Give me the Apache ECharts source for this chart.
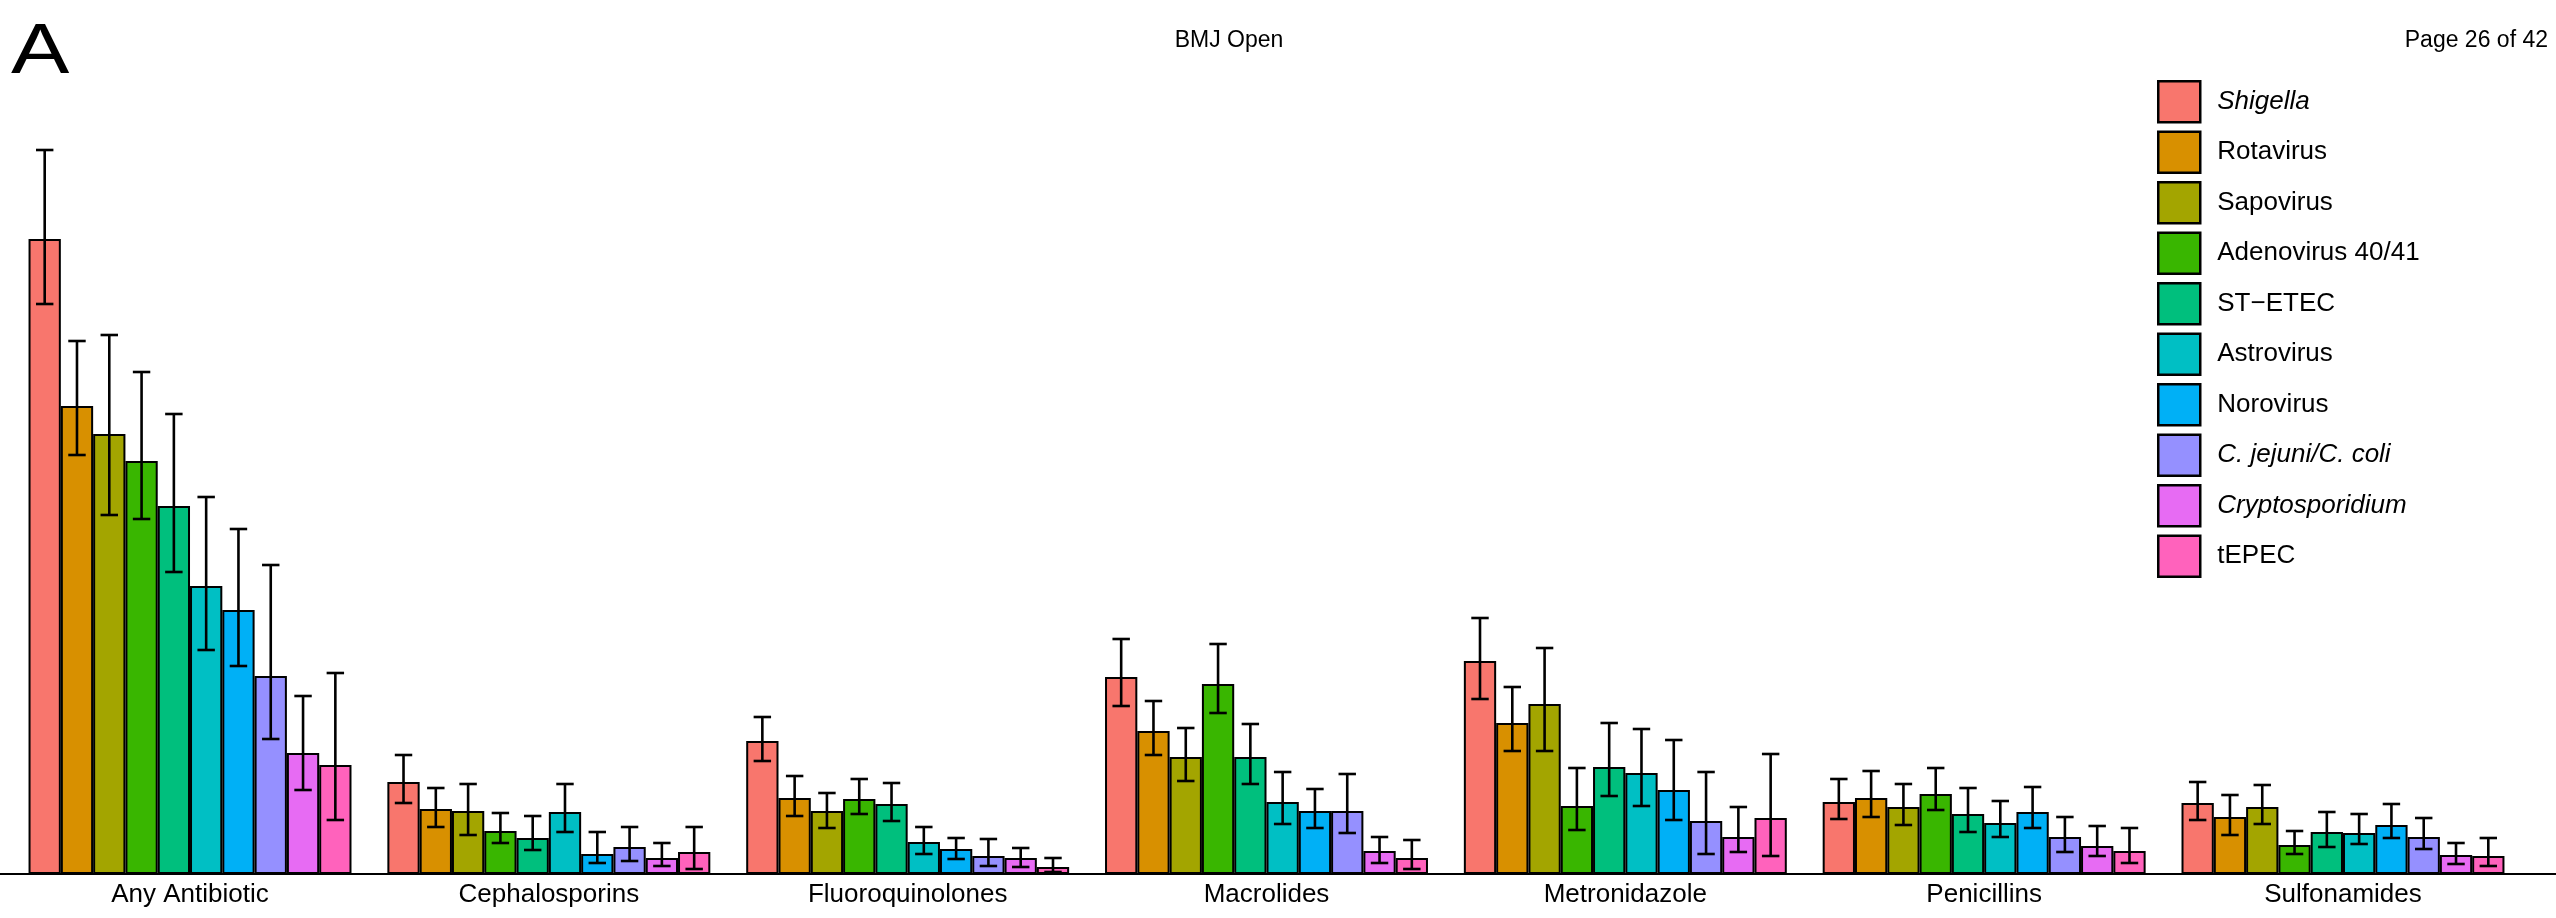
<!DOCTYPE html>
<html>
<head>
<meta charset="utf-8">
<script src="https://cdn.jsdelivr.net/npm/echarts@6/dist/echarts.min.js"></script>
<style>
html,body{margin:0;padding:0;background:#fff;}
#chart{width:2556px;height:918px;}
</style>
</head>
<body>
<div id="chart"></div>
<script>
const categories = ['Any Antibiotic','Cephalosporins','Fluoroquinolones','Macrolides','Metronidazole','Penicillins','Sulfonamides'];
const pathogens = ['Shigella','Rotavirus','Sapovirus','Adenovirus 40/41','ST\u2212ETEC','Astrovirus','Norovirus','C. jejuni/C. coli','Cryptosporidium','tEPEC'];
const italicNames = ['Shigella','C. jejuni/C. coli','Cryptosporidium'];
const colors = ['#F8766D','#D89000','#A3A500','#39B600','#00BF7D','#00BFC4','#00B0F6','#9590FF','#E76BF3','#FF62BC'];

const shigella      = [63.5, 9.2, 13.3, 19.7, 21.3, 7.2, 7.1];
const shigellaLo    = [57.0, 7.1, 11.3, 16.8, 17.5, 5.5, 5.4];
const shigellaHi    = [72.4, 11.9, 15.7, 23.5, 25.6, 9.5, 9.2];

const rotavirus     = [46.8, 6.5, 7.6, 14.3, 15.1, 7.6, 5.7];
const rotavirusLo   = [41.9, 4.7, 5.8, 11.9, 12.3, 5.7, 3.9];
const rotavirusHi   = [53.3, 8.6, 9.8, 17.3, 18.7, 10.3, 7.9];

const sapovirus     = [44.0, 6.3, 6.3, 11.7, 17.0, 6.7, 6.7];
const sapovirusLo   = [35.9, 3.9, 4.6, 9.3, 12.3, 4.9, 5.0];
const sapovirusHi   = [53.9, 9.0, 8.1, 14.6, 22.6, 9.0, 8.9];

const adenovirus    = [41.3, 4.3, 7.5, 19.0, 6.8, 8.0, 2.9];
const adenovirusLo  = [35.5, 3.1, 6.0, 16.1, 4.4, 6.4, 2.0];
const adenovirusHi  = [50.2, 6.1, 9.5, 23.0, 10.6, 10.6, 4.3];

const stEtec        = [36.8, 3.6, 7.0, 11.7, 10.7, 6.0, 4.2];
const stEtecLo      = [30.2, 2.4, 5.3, 9.0, 7.8, 4.2, 2.7];
const stEtecHi      = [46.0, 5.8, 9.1, 15.0, 15.1, 8.6, 6.2];

const astrovirus    = [28.8, 6.2, 3.2, 7.2, 10.1, 5.1, 4.1];
const astrovirusLo  = [22.4, 4.2, 2.0, 5.0, 6.8, 3.7, 3.0];
const astrovirusHi  = [37.7, 9.0, 4.7, 10.2, 14.5, 7.3, 6.0];

const norovirus     = [26.4, 2.0, 2.5, 6.3, 8.4, 6.2, 4.9];
const norovirusLo   = [20.8, 1.1, 1.5, 4.6, 5.4, 4.6, 3.6];
const norovirusHi   = [34.5, 4.2, 3.6, 8.5, 13.4, 8.7, 7.0];

const campylo       = [19.8, 2.7, 1.8, 6.3, 5.3, 3.7, 3.7];
const campyloLo     = [13.5, 1.3, 0.8, 4.1, 2.0, 2.2, 2.5];
const campyloHi     = [30.9, 4.7, 3.5, 10.0, 10.2, 5.7, 5.6];

const crypto        = [12.1, 1.6, 1.6, 2.3, 3.7, 2.8, 1.9];
const cryptoLo      = [8.4, 0.8, 0.7, 1.1, 2.2, 1.8, 1.0];
const cryptoHi      = [17.8, 3.1, 2.6, 3.7, 6.7, 4.8, 3.1];

const tepec         = [10.9, 2.2, 0.7, 1.6, 5.6, 2.3, 1.8];
const tepecLo       = [5.4, 0.5, 0.2, 0.5, 1.8, 1.1, 0.8];
const tepecHi       = [20.1, 4.7, 1.6, 3.4, 12.0, 4.6, 3.6];

const values = [shigella, rotavirus, sapovirus, adenovirus, stEtec, astrovirus, norovirus, campylo, crypto, tepec];
const lows   = [shigellaLo, rotavirusLo, sapovirusLo, adenovirusLo, stEtecLo, astrovirusLo, norovirusLo, campyloLo, cryptoLo, tepecLo];
const highs  = [shigellaHi, rotavirusHi, sapovirusHi, adenovirusHi, stEtecHi, astrovirusHi, norovirusHi, campyloHi, cryptoHi, tepecHi];

const FONT = '"Liberation Sans", Arial, Helvetica, sans-serif';
const nSeries = pathogens.length;
const dodge = 0.9;

const series = [];
pathogens.forEach((name, k) => {
  series.push({
    type: 'bar',
    name: name,
    xAxisIndex: 0, yAxisIndex: 0,
    data: values[k],
    barGap: '0%',
    barCategoryGap: '10%',
    itemStyle: { color: colors[k], borderColor: '#000', borderWidth: 2 },
    emphasis: { disabled: true },
    z: 2
  });
});
pathogens.forEach((name, k) => {
  series.push({
    type: 'custom',
    name: 'err_' + k,
    xAxisIndex: 0, yAxisIndex: 0,
    data: categories.map((c, i) => [i, lows[k][i], highs[k][i]]),
    encode: { x: 0, y: [1, 2] },
    z: 5,
    silent: true,
    renderItem: function (params, api) {
      const ci = api.value(0);
      const pLo = api.coord([ci, api.value(1)]);
      const pHi = api.coord([ci, api.value(2)]);
      const band = api.size([1, 0])[0];
      const bw = band * dodge / nSeries;
      const cx = pLo[0] + (k - (nSeries - 1) / 2) * bw;
      const hw = bw * 0.27;
      const st = { stroke: '#000', lineWidth: 2.6 };
      return {
        type: 'group',
        children: [
          { type: 'line', shape: { x1: cx, y1: pLo[1], x2: cx, y2: pHi[1] }, style: st },
          { type: 'line', shape: { x1: cx - hw, y1: pLo[1], x2: cx + hw, y2: pLo[1] }, style: st },
          { type: 'line', shape: { x1: cx - hw, y1: pHi[1], x2: cx + hw, y2: pHi[1] }, style: st }
        ]
      };
    }
  });
});

const chart = echarts.init(document.getElementById('chart'), null, { renderer: 'canvas' });
chart.setOption({
  animation: false,
  backgroundColor: '#ffffff',
  textStyle: { fontFamily: FONT },
  grid: [
    { left: 10.6, right: 33.6, top: 74, bottom: 44 },
    { left: 0, right: 0, top: 74, bottom: 44 }
  ],
  xAxis: [
    {
      type: 'category', gridIndex: 0, data: categories,
      axisLine: { show: false }, axisTick: { show: false },
      axisLabel: { color: '#000', fontSize: 26, fontFamily: FONT, margin: 8, interval: 0 },
      splitLine: { show: false }
    },
    {
      type: 'value', gridIndex: 1, min: 0, max: 1,
      axisLine: { show: true, onZero: false, lineStyle: { color: '#000', width: 2.2 } },
      axisTick: { show: false }, axisLabel: { show: false }, splitLine: { show: false }
    }
  ],
  yAxis: [
    { type: 'value', gridIndex: 0, min: 0, max: 80, show: false, splitLine: { show: false } },
    { type: 'value', gridIndex: 1, min: 0, max: 1, show: false, splitLine: { show: false } }
  ],
  legend: {
    data: pathogens,
    orient: 'vertical',
    left: 2152,
    top: 75,
    itemWidth: 42,
    itemHeight: 41,
    itemGap: 7.0,
    icon: 'rect',
    selectedMode: false,
    itemStyle: { borderColor: '#000', borderWidth: 2.5 },
    formatter: function (name) {
      return italicNames.indexOf(name) >= 0 ? '{i|' + name + '}' : '{n|' + name + '}';
    },
    textStyle: {
      color: '#000', fontSize: 26, fontFamily: FONT,
      rich: {
        i: { fontStyle: 'italic', fontSize: 26, color: '#000', fontFamily: FONT, padding: [0, 0, 0, 12] },
        n: { fontSize: 26, color: '#000', fontFamily: FONT, padding: [0, 0, 0, 12] }
      }
    }
  },
  graphic: [
    { type: 'text', x: 11, y: 53.5, scaleX: 1.25, style: { text: 'A', fontSize: 70, fontFamily: FONT, fill: '#000', verticalAlign: 'middle', align: 'left' } },
    { type: 'text', x: 1229, y: 41, style: { text: 'BMJ Open', fontSize: 23, fontFamily: FONT, fill: '#000', verticalAlign: 'middle', align: 'center' } },
    { type: 'text', x: 2548, y: 41, style: { text: 'Page 26 of 42', fontSize: 23, fontFamily: FONT, fill: '#000', verticalAlign: 'middle', align: 'right' } }
  ],
  series: series
});
</script>
</body>
</html>
